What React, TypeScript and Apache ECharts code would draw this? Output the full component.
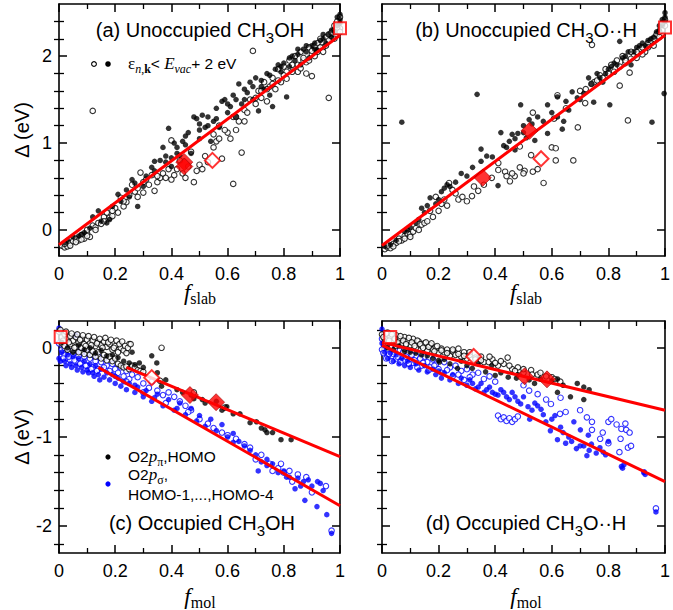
import React, { useEffect, useRef } from "react";
import * as echarts from "echarts";

// ---------- tick labels / tick positions ----------
const xTickLabels = ["0", "0.2", "0.4", "0.6", "0.8", "1"];
const yMajorTop = [0, 1, 2];
const yMinorTop = [-0.2, 0.2, 0.4, 0.6, 0.8, 1.2, 1.4, 1.6, 1.8, 2.2, 2.4];
const yMajorBottom = [-2, -1, 0];
const yMinorBottom = [-2.2, -1.8, -1.6, -1.4, -1.2, -0.8, -0.6, -0.4, -0.2, 0.2];

// ---------- panel (a) Unoccupied CH3OH ----------
const aFilled = [[0.02,-0.15],[0.03,-0.12],[0.05,-0.08],[0.07,-0.07],[0.08,-0.05],[0.09,-0.03],[0.11,0.02],[0.12,0.15],[0.14,0.22],[0.15,0.1],[0.17,0.08],[0.18,0.12],[0.19,0.27],[0.21,0.41],[0.22,0.33],[0.24,0.46],[0.25,0.38],[0.26,0.58],[0.27,0.54],[0.28,0.27],[0.3,0.5],[0.31,0.62],[0.33,0.72],[0.34,0.68],[0.34,0.79],[0.36,0.8],[0.37,0.95],[0.38,0.78],[0.39,1.17],[0.4,0.83],[0.4,0.73],[0.41,1.0],[0.42,0.95],[0.43,0.86],[0.44,1.02],[0.45,0.98],[0.46,1.12],[0.47,0.88],[0.48,1.3],[0.49,1.28],[0.5,1.05],[0.5,1.22],[0.51,1.32],[0.52,1.18],[0.53,1.3],[0.54,1.02],[0.55,1.25],[0.56,1.4],[0.57,1.18],[0.58,1.48],[0.59,1.5],[0.6,1.35],[0.61,1.42],[0.62,1.55],[0.63,1.3],[0.64,1.68],[0.65,1.45],[0.66,1.62],[0.67,1.58],[0.68,1.7],[0.69,1.5],[0.7,1.75],[0.71,1.37],[0.72,1.72],[0.73,1.62],[0.74,1.8],[0.75,1.55],[0.76,1.42],[0.77,1.85],[0.78,1.9],[0.79,1.82],[0.8,1.92],[0.81,1.53],[0.82,1.88],[0.83,2.0],[0.84,1.95],[0.85,2.02],[0.86,1.9],[0.87,2.08],[0.88,2.05],[0.89,1.98],[0.9,2.12],[0.91,2.15],[0.92,2.07],[0.93,2.18],[0.94,2.2],[0.95,2.15],[0.96,2.25],[0.97,2.3],[0.98,2.28],[0.99,2.35],[1.0,2.42],[1.0,2.48],[1.0,2.38],[0.45,1.08],[0.5,1.15],[0.53,1.2],[0.56,1.28],[0.6,1.45],[0.63,1.5],[0.66,1.5],[0.69,1.65],[0.72,1.65],[0.75,1.78],[0.79,1.88],[0.82,1.98],[0.85,2.08],[0.88,2.12],[0.91,2.08],[0.94,2.25],[0.97,2.22],[0.99,2.45],[0.42,0.88],[0.38,0.85]];
const aOpen = [[0.01,-0.18],[0.02,-0.2],[0.03,-0.19],[0.04,-0.15],[0.05,-0.13],[0.06,-0.1],[0.07,-0.12],[0.08,-0.06],[0.09,-0.1],[0.1,-0.04],[0.1,0.0],[0.11,-0.08],[0.12,0.05],[0.12,1.37],[0.13,0.03],[0.14,0.08],[0.15,0.07],[0.16,0.15],[0.17,0.2],[0.18,0.14],[0.19,0.16],[0.2,0.25],[0.21,0.2],[0.22,0.37],[0.23,0.27],[0.24,0.32],[0.25,0.4],[0.26,0.52],[0.27,0.44],[0.28,0.38],[0.28,0.48],[0.29,0.66],[0.3,0.43],[0.31,0.58],[0.32,0.52],[0.33,0.63],[0.34,0.45],[0.35,0.55],[0.36,0.6],[0.37,0.65],[0.38,0.6],[0.39,0.7],[0.4,0.58],[0.4,1.03],[0.41,0.63],[0.42,0.7],[0.43,0.8],[0.44,0.65],[0.45,0.6],[0.46,0.73],[0.47,0.9],[0.48,0.55],[0.49,0.68],[0.5,0.75],[0.51,0.7],[0.52,0.85],[0.53,0.78],[0.55,0.95],[0.56,1.02],[0.57,1.2],[0.58,0.82],[0.6,1.12],[0.61,1.05],[0.62,1.3],[0.62,0.53],[0.63,1.15],[0.64,1.25],[0.65,0.89],[0.66,1.38],[0.67,1.35],[0.68,1.5],[0.69,2.06],[0.7,1.45],[0.71,1.6],[0.72,1.52],[0.73,1.7],[0.74,1.48],[0.75,1.65],[0.76,1.75],[0.77,1.62],[0.78,1.85],[0.79,1.7],[0.8,1.88],[0.81,1.82],[0.82,1.95],[0.83,1.9],[0.84,2.0],[0.85,1.82],[0.86,2.05],[0.87,1.95],[0.88,1.8],[0.89,2.1],[0.9,2.02],[0.9,1.77],[0.91,2.12],[0.92,2.05],[0.93,2.2],[0.94,2.1],[0.95,2.22],[0.96,1.52],[0.96,2.25],[0.97,2.2],[0.98,2.3],[0.98,2.35],[0.99,2.28],[0.99,2.4],[1.0,2.32],[1.0,2.45],[0.7,1.52],[0.72,1.6],[0.74,1.62],[0.76,1.68],[0.78,1.72],[0.8,1.78],[0.81,1.74],[0.83,1.82],[0.85,1.9],[0.86,1.86],[0.87,1.98],[0.88,1.93],[0.89,1.95],[0.9,2.06],[0.91,2.0],[0.92,2.15],[0.93,2.1],[0.94,2.05],[0.95,2.12],[0.96,2.18],[0.97,2.27],[0.98,2.2],[0.99,2.33],[1.0,2.28],[0.55,1.1],[0.57,1.05],[0.59,1.15],[0.63,1.3],[0.66,1.25],[0.02,-0.16],[0.04,-0.18],[0.06,-0.14],[0.08,-0.11],[0.1,-0.07],[0.13,0.0],[0.16,0.1],[0.19,0.22],[0.23,0.33],[0.3,0.55],[0.35,0.62]];
const aFit = [[0, -0.17], [1, 2.24]];
const aDiamonds = [[0.446, 0.78], [0.446, 0.73]];
const aOpenDiamond = [[0.546, 0.8]];
const aSquare = [[1.0, 2.32]];

// ---------- panel (b) Unoccupied CH3O..H ----------
const bFilled = [[0.01,-0.19],[0.03,-0.17],[0.05,-0.12],[0.07,1.24],[0.08,-0.02],[0.09,0.0],[0.1,0.03],[0.12,0.08],[0.13,0.12],[0.14,0.25],[0.15,0.2],[0.16,0.28],[0.17,0.37],[0.19,0.3],[0.2,0.35],[0.21,0.44],[0.22,0.48],[0.23,0.52],[0.24,0.5],[0.26,0.55],[0.28,0.65],[0.3,0.62],[0.32,0.72],[0.336,1.56],[0.35,0.93],[0.35,0.79],[0.37,0.85],[0.39,0.84],[0.41,0.51],[0.42,1.12],[0.43,0.97],[0.45,1.02],[0.46,1.1],[0.47,0.92],[0.48,1.11],[0.49,1.44],[0.5,1.2],[0.51,1.06],[0.52,1.27],[0.53,1.22],[0.54,1.03],[0.55,1.3],[0.57,1.25],[0.585,1.11],[0.585,1.44],[0.6,1.35],[0.62,1.53],[0.637,1.16],[0.642,1.25],[0.65,1.48],[0.672,1.59],[0.69,1.52],[0.713,1.57],[0.73,1.75],[0.748,1.47],[0.76,1.8],[0.78,1.7],[0.8,1.85],[0.805,1.44],[0.82,1.92],[0.84,2.17],[0.85,1.98],[0.87,2.05],[0.88,1.9],[0.9,2.1],[0.92,2.15],[0.93,2.12],[0.95,2.2],[0.954,1.24],[0.97,2.28],[0.98,2.3],[0.99,2.35],[1.0,2.45],[1.0,2.4],[1.0,2.5],[0.997,1.57],[0.74,1.68],[0.77,1.75],[0.79,1.8],[0.81,1.88],[0.83,1.9],[0.86,2.0],[0.89,2.05],[0.91,2.12],[0.94,2.18],[0.96,2.22],[0.98,2.35],[0.99,2.42],[0.62,1.3],[0.66,1.38],[0.7,1.5],[0.44,0.95],[0.47,1.05],[0.5,1.12]];
const bOpen = [[0.01,-0.22],[0.02,-0.2],[0.03,-0.21],[0.04,-0.16],[0.05,-0.15],[0.06,-0.1],[0.07,-0.12],[0.08,-0.07],[0.09,-0.04],[0.1,-0.05],[0.11,-0.02],[0.12,0.02],[0.13,0.0],[0.14,0.06],[0.15,0.08],[0.16,0.1],[0.17,0.22],[0.18,0.15],[0.19,0.38],[0.2,0.22],[0.21,0.3],[0.22,0.35],[0.23,0.28],[0.237,0.54],[0.249,0.46],[0.26,0.42],[0.27,0.35],[0.284,0.38],[0.3,0.33],[0.318,0.39],[0.325,0.5],[0.34,0.45],[0.36,0.52],[0.388,0.6],[0.411,0.69],[0.411,0.77],[0.435,0.67],[0.452,0.56],[0.469,0.62],[0.487,0.72],[0.487,0.96],[0.504,0.68],[0.527,0.86],[0.533,0.67],[0.533,1.35],[0.571,0.54],[0.6,0.95],[0.608,1.28],[0.614,0.94],[0.614,0.8],[0.62,1.55],[0.65,1.4],[0.676,0.8],[0.692,1.18],[0.7,1.6],[0.718,1.46],[0.742,2.13],[0.75,1.7],[0.77,1.78],[0.79,1.85],[0.81,1.9],[0.83,1.95],[0.84,1.66],[0.85,2.0],[0.86,1.92],[0.869,1.26],[0.875,1.81],[0.88,2.05],[0.89,2.0],[0.9,1.98],[0.91,2.08],[0.92,2.1],[0.93,2.05],[0.94,2.15],[0.95,2.18],[0.96,2.12],[0.97,2.25],[0.98,2.22],[0.99,2.3],[1.0,2.35],[0.72,1.62],[0.74,1.68],[0.76,1.72],[0.78,1.75],[0.8,1.8],[0.82,1.82],[0.84,1.88],[0.86,1.95],[0.88,1.97],[0.9,2.05],[0.92,2.02],[0.94,2.1],[0.96,2.2],[0.98,2.28],[0.99,2.38],[1.0,2.42],[0.02,-0.18],[0.04,-0.19],[0.06,-0.13],[0.08,-0.1],[0.1,-0.08],[0.44,0.62],[0.46,0.65],[0.5,0.65],[0.55,0.7]];
const bFit = [[0, -0.18], [1, 2.24]];
const bDiamonds = [[0.356, 0.6], [0.521, 1.14]];
const bOpenDiamond = [[0.562, 0.82]];
const bSquare = [[1.0, 2.33]];

// ---------- panel (c) Occupied CH3OH ----------
const cBlackOpen = [[0.0,0.18],[0.01,0.12],[0.01,0.05],[0.02,0.15],[0.02,0.02],[0.03,0.1],[0.03,-0.02],[0.04,0.13],[0.04,0.04],[0.05,0.08],[0.05,-0.03],[0.06,0.12],[0.06,0.01],[0.07,0.06],[0.07,-0.05],[0.08,0.1],[0.08,0.0],[0.09,0.04],[0.09,-0.07],[0.1,0.09],[0.1,-0.02],[0.11,0.05],[0.11,-0.08],[0.12,0.08],[0.12,-0.04],[0.13,0.02],[0.13,-0.1],[0.14,0.06],[0.14,-0.05],[0.15,0.03],[0.15,-0.12],[0.16,0.07],[0.16,-0.08],[0.17,0.01],[0.17,-0.14],[0.18,0.04],[0.18,-0.1],[0.19,-0.02],[0.19,-0.15],[0.2,0.02],[0.2,-0.12],[0.21,-0.05],[0.21,-0.18],[0.22,0.0],[0.22,-0.2],[0.23,-0.03],[0.23,-0.22],[0.24,-0.06],[0.24,-0.21],[0.25,0.04],[0.25,-0.24],[0.26,-0.2],[0.27,-0.22],[0.28,-0.25],[0.29,-0.26],[0.3,-0.27],[0.36,-0.37],[0.365,0.0],[0.48,-0.5],[0.59,-0.67],[0.005,0.2],[0.015,0.08],[0.025,0.18],[0.035,0.06],[0.045,0.16],[0.055,0.0],[0.065,0.15],[0.075,0.09],[0.085,0.14],[0.095,0.02],[0.105,0.13],[0.115,0.03],[0.125,0.12],[0.135,0.05],[0.145,0.1],[0.155,0.0],[0.165,0.11],[0.175,0.06],[0.185,0.09],[0.195,0.0],[0.205,0.08],[0.215,0.04],[0.225,0.07],[0.235,0.02],[0.245,0.0],[0.255,0.04]];
const cBlackFilled = [[0.01,0.06],[0.03,0.0],[0.05,-0.05],[0.07,0.03],[0.09,-0.02],[0.11,0.0],[0.13,-0.06],[0.15,-0.03],[0.17,-0.09],[0.19,-0.08],[0.21,-0.11],[0.23,-0.15],[0.25,-0.17],[0.26,-0.05],[0.27,-0.19],[0.286,-0.17],[0.3,-0.22],[0.33,-0.09],[0.348,-0.17],[0.35,-0.28],[0.365,-0.43],[0.38,-0.36],[0.42,-0.47],[0.44,-0.5],[0.47,-0.53],[0.48,-0.57],[0.51,-0.58],[0.52,-0.62],[0.56,-0.6],[0.58,-0.7],[0.597,-0.66],[0.62,-0.74],[0.644,-0.74],[0.68,-0.84],[0.703,-0.83],[0.72,-0.9],[0.733,-0.92],[0.74,-0.95],[0.76,-0.95],[0.79,-1.03],[0.826,-1.03]];
const cBlueFilled = [[0.0,0.22],[0.0,-0.12],[0.01,-0.05],[0.02,-0.15],[0.03,-0.08],[0.04,-0.18],[0.05,-0.1],[0.06,0.14],[0.06,-0.2],[0.07,-0.12],[0.08,-0.22],[0.09,-0.15],[0.1,-0.25],[0.11,-0.18],[0.12,-0.28],[0.13,-0.2],[0.14,-0.3],[0.15,-0.24],[0.16,-0.33],[0.17,-0.28],[0.18,-0.36],[0.19,-0.3],[0.2,-0.4],[0.21,-0.34],[0.22,-0.43],[0.23,-0.38],[0.24,-0.47],[0.25,-0.4],[0.27,-0.5],[0.28,-0.44],[0.3,-0.55],[0.31,-0.48],[0.33,-0.6],[0.35,-0.52],[0.37,-0.65],[0.39,-0.58],[0.41,-0.7],[0.43,-0.62],[0.45,-0.75],[0.47,-0.68],[0.49,-0.82],[0.5,-0.76],[0.52,-0.88],[0.54,-0.8],[0.56,-0.93],[0.58,-0.86],[0.6,-1.0],[0.62,-0.96],[0.64,-1.05],[0.66,-1.1],[0.68,-1.15],[0.7,-1.2],[0.709,-1.38],[0.72,-1.28],[0.74,-1.32],[0.76,-1.3],[0.78,-1.4],[0.8,-1.38],[0.82,-1.45],[0.84,-1.58],[0.85,-1.46],[0.87,-1.5],[0.875,-1.71],[0.887,-1.48],[0.9,-1.55],[0.918,-1.78],[0.93,-1.52],[0.94,-1.6],[0.953,-1.87],[0.97,-2.08],[0.005,-0.15],[0.025,-0.2],[0.045,-0.22],[0.065,-0.25],[0.085,-0.27],[0.105,-0.28],[0.125,-0.32],[0.145,-0.36],[0.2,-0.32],[0.27,-0.42],[0.34,-0.56],[0.42,-0.68],[0.62,-1.06],[0.74,-1.25],[0.81,-1.45],[0.86,-1.55],[0.92,-1.5]];
const cBlueOpen = [[0.0,0.05],[0.01,-0.02],[0.01,-0.1],[0.02,0.0],[0.02,-0.08],[0.03,-0.12],[0.04,-0.04],[0.04,-0.14],[0.05,-0.07],[0.06,-0.02],[0.06,-0.16],[0.07,-0.09],[0.08,-0.05],[0.08,-0.17],[0.09,-0.1],[0.1,-0.06],[0.1,-0.2],[0.11,-0.12],[0.12,-0.08],[0.12,-0.22],[0.13,-0.15],[0.14,-0.1],[0.14,-0.24],[0.15,-0.16],[0.16,-0.12],[0.17,-0.2],[0.18,-0.26],[0.19,-0.18],[0.2,-0.24],[0.21,-0.28],[0.22,-0.22],[0.23,-0.32],[0.24,-0.26],[0.25,-0.35],[0.26,-0.3],[0.28,-0.33],[0.3,-0.4],[0.32,-0.45],[0.33,-0.38],[0.35,-0.48],[0.37,-0.53],[0.39,-0.5],[0.41,-0.55],[0.43,-0.6],[0.45,-0.65],[0.47,-0.7],[0.5,-0.8],[0.53,-0.85],[0.55,-0.9],[0.58,-0.95],[0.6,-0.98],[0.63,-1.02],[0.66,-1.08],[0.68,-1.12],[0.72,-1.2],[0.75,-1.3],[0.78,-1.35],[0.8,-1.4],[0.82,-1.38],[0.85,-1.42],[0.88,-1.45],[0.97,-2.05],[0.015,-0.12],[0.035,-0.1],[0.055,-0.14],[0.075,-0.18],[0.095,-0.2],[0.115,-0.24],[0.135,-0.26],[0.16,-0.22],[0.24,-0.38],[0.3,-0.5],[0.38,-0.62],[0.46,-0.72],[0.7,-1.25],[0.76,-1.38],[0.79,-1.3],[0.83,-1.5],[0.9,-1.62],[0.95,-1.55]];
const cFitUpper = [[0.24, -0.22], [1, -1.22]];
const cFitLower = [[0.14, -0.22], [1, -1.77]];
const cDiamonds = [[0.466, -0.53], [0.559, -0.61]];
const cOpenDiamond = [[0.33, -0.335]];
const cSquare = [[0.006, 0.12]];

// ---------- panel (d) Occupied CH3O..H ----------
const dBlackOpen = [[0.0,0.15],[0.01,0.1],[0.02,0.17],[0.02,0.05],[0.03,0.12],[0.04,0.08],[0.05,0.14],[0.05,0.02],[0.06,0.1],[0.07,0.05],[0.08,0.12],[0.08,-0.01],[0.09,0.08],[0.1,0.03],[0.11,0.1],[0.12,0.0],[0.13,0.07],[0.14,0.02],[0.15,0.05],[0.16,-0.03],[0.17,0.03],[0.18,-0.02],[0.19,0.01],[0.2,-0.06],[0.21,-0.01],[0.22,-0.05],[0.23,-0.02],[0.24,-0.09],[0.25,-0.04],[0.26,-0.08],[0.27,-0.01],[0.28,-0.1],[0.29,-0.05],[0.3,-0.12],[0.31,-0.08],[0.33,-0.11],[0.34,-0.15],[0.35,-0.1],[0.36,-0.16],[0.377,-0.16],[0.39,-0.13],[0.41,-0.2],[0.43,-0.18],[0.444,-0.11],[0.46,-0.24],[0.48,-0.22],[0.5,-0.28],[0.527,-0.25],[0.55,-0.3],[0.6,-0.33],[0.63,-0.38],[0.005,0.12],[0.015,0.16],[0.025,0.08],[0.035,0.15],[0.045,0.1],[0.055,0.06],[0.065,0.13],[0.075,0.08],[0.085,0.04],[0.095,0.11],[0.105,0.06],[0.115,0.02],[0.125,0.08],[0.135,0.04],[0.145,0.0],[0.155,0.06],[0.165,0.01],[0.175,0.05],[0.185,-0.04],[0.195,0.02],[0.21,-0.03],[0.23,-0.06],[0.25,-0.02],[0.27,-0.07],[0.29,-0.09],[0.31,-0.05],[0.33,-0.13],[0.35,-0.14],[0.38,-0.1],[0.4,-0.17],[0.42,-0.15],[0.45,-0.2],[0.47,-0.26],[0.5,-0.24],[0.53,-0.3],[0.56,-0.28],[0.58,-0.32],[0.61,-0.35]];
const dBlackFilled = [[0.02,0.0],[0.04,-0.02],[0.06,0.02],[0.08,-0.04],[0.1,-0.05],[0.12,-0.06],[0.14,-0.08],[0.16,-0.09],[0.18,-0.12],[0.2,-0.14],[0.203,-0.16],[0.22,-0.13],[0.24,-0.18],[0.267,-0.23],[0.28,-0.15],[0.3,-0.2],[0.319,-0.23],[0.34,-0.18],[0.366,-0.27],[0.388,-0.2],[0.4,-0.31],[0.42,-0.28],[0.446,-0.33],[0.475,-0.34],[0.48,-0.3],[0.52,-0.36],[0.539,-0.4],[0.56,-0.35],[0.6,-0.37],[0.62,-0.5],[0.62,-0.35],[0.64,-0.42],[0.666,-0.55],[0.69,-0.4],[0.713,-0.44],[0.713,-0.58],[0.732,-0.47]];
const dBlueFilled = [[0.0,0.21],[0.0,0.05],[0.01,-0.05],[0.02,-0.12],[0.03,-0.06],[0.04,-0.15],[0.05,-0.08],[0.06,-0.18],[0.07,-0.12],[0.08,-0.2],[0.09,-0.15],[0.1,-0.22],[0.12,-0.18],[0.13,-0.25],[0.15,-0.2],[0.16,-0.27],[0.18,-0.24],[0.19,-0.3],[0.2,-0.26],[0.21,-0.34],[0.22,-0.28],[0.24,-0.36],[0.25,-0.3],[0.27,-0.4],[0.28,-0.34],[0.3,-0.42],[0.31,-0.36],[0.33,-0.46],[0.35,-0.4],[0.36,-0.5],[0.38,-0.44],[0.4,-0.52],[0.42,-0.47],[0.44,-0.55],[0.46,-0.5],[0.48,-0.6],[0.5,-0.55],[0.516,-0.66],[0.522,-0.8],[0.54,-0.62],[0.562,-0.69],[0.579,-0.83],[0.595,-0.93],[0.611,-0.76],[0.62,-1.03],[0.631,-0.89],[0.649,-1.07],[0.66,-1.0],[0.678,-0.83],[0.687,-1.13],[0.701,-0.92],[0.713,-1.1],[0.724,-1.21],[0.729,-0.98],[0.732,-1.15],[0.757,-1.18],[0.782,-1.17],[0.8,-1.05],[0.846,-1.33],[0.85,-1.35],[0.927,-1.39],[0.93,-1.42],[0.968,-1.84],[0.32,-0.4],[0.34,-0.44],[0.37,-0.47],[0.39,-0.5],[0.41,-0.53],[0.43,-0.5],[0.45,-0.58],[0.47,-0.55],[0.49,-0.63],[0.53,-0.7],[0.55,-0.65],[0.57,-0.75],[0.6,-0.8],[0.64,-0.95],[0.67,-1.05],[0.7,-1.1],[0.74,-1.08],[0.77,-1.12],[0.79,-1.2],[0.855,-1.31],[0.925,-1.4]];
const dBlueOpen = [[0.0,0.1],[0.0,-0.02],[0.01,0.03],[0.02,-0.04],[0.02,-0.1],[0.03,0.0],[0.04,-0.07],[0.05,-0.12],[0.06,-0.03],[0.07,-0.09],[0.08,-0.14],[0.09,-0.06],[0.1,-0.12],[0.11,-0.17],[0.12,-0.09],[0.13,-0.14],[0.14,-0.2],[0.15,-0.1],[0.16,-0.16],[0.17,-0.22],[0.18,-0.13],[0.19,-0.19],[0.2,-0.24],[0.22,-0.16],[0.24,-0.22],[0.26,-0.2],[0.28,-0.26],[0.3,-0.24],[0.32,-0.3],[0.34,-0.28],[0.36,-0.35],[0.38,-0.32],[0.4,-0.38],[0.41,-0.76],[0.42,-0.8],[0.43,-0.78],[0.44,-0.82],[0.45,-0.79],[0.46,-0.83],[0.47,-0.8],[0.48,-0.77],[0.5,-0.42],[0.52,-0.48],[0.55,-0.52],[0.58,-0.58],[0.597,-0.63],[0.631,-0.56],[0.629,-0.74],[0.649,-0.72],[0.7,-0.7],[0.724,-0.78],[0.742,-0.83],[0.742,-0.92],[0.771,-1.02],[0.78,-0.95],[0.8,-0.83],[0.8,-1.07],[0.81,-0.8],[0.829,-0.86],[0.843,-1.02],[0.846,-0.91],[0.839,-1.17],[0.86,-0.85],[0.863,-0.92],[0.869,-1.12],[0.875,-0.95],[0.88,-1.1],[0.968,-1.8],[0.005,-0.06],[0.015,-0.12],[0.025,-0.07],[0.035,-0.15],[0.045,-0.02],[0.055,-0.1],[0.065,-0.16],[0.075,-0.05],[0.085,-0.1],[0.095,-0.18],[0.105,-0.08],[0.115,-0.14],[0.125,-0.22],[0.135,-0.12],[0.145,-0.17],[0.165,-0.25],[0.185,-0.2],[0.21,-0.28],[0.23,-0.25],[0.25,-0.32],[0.27,-0.3],[0.29,-0.36],[0.31,-0.33]];
const dFitUpper = [[0, 0.06], [1, -0.7]];
const dFitLower = [[0, 0.03], [1, -1.5]];
const dDiamonds = [[0.504, -0.32], [0.583, -0.354]];
const dOpenDiamond = [[0.324, -0.097]];
const dSquare = [[0.029, 0.12]];

// ---------- layout ----------
const SANS = "Liberation Sans";
const SERIF = "Liberation Serif";
const grids = [
  { left: 59, top: 4, width: 281, height: 252 },
  { left: 382, top: 4, width: 287, height: 252 },
  { left: 59, top: 321, width: 281, height: 232 },
  { left: 382, top: 321, width: 287, height: 232 },
];
const yRanges = [[-0.3, 2.6], [-0.3, 2.6], [-2.3, 0.3], [-2.3, 0.3]];

function buildAxes() {
  const xAxis: any[] = [];
  const yAxis: any[] = [];
  const line = { show: true, onZero: false, lineStyle: { color: "#000", width: 1.6 } };
  const tick = { show: true, inside: true, length: 8, lineStyle: { color: "#000", width: 1.5 } };
  grids.forEach((_, gi) => {
    const xc = {
      type: "value", gridIndex: gi, min: 0, max: 1, interval: 0.2,
      axisLine: line, axisTick: tick,
      minorTick: { show: true, splitNumber: 2, length: 5, lineStyle: { color: "#000", width: 1.3 } },
      splitLine: { show: false }, minorSplitLine: { show: false },
    };
    xAxis.push({
      ...xc, position: "bottom",
      axisLabel: {
        show: true, fontSize: 18, color: "#000", fontFamily: SANS, margin: 9,
        formatter: (v: number) => {
          const i = Math.round(v / 0.2);
          return Math.abs(v - i * 0.2) < 1e-6 ? xTickLabels[i] ?? "" : "";
        },
      },
    });
    xAxis.push({ ...xc, position: "top", axisLabel: { show: false } });
    const majors = gi < 2 ? yMajorTop : yMajorBottom;
    const minors = gi < 2 ? yMinorTop : yMinorBottom;
    const base = {
      type: "value", gridIndex: gi, min: yRanges[gi][0], max: yRanges[gi][1],
      splitLine: { show: false }, minorTick: { show: false },
    };
    ["left", "right"].forEach((pos) => {
      yAxis.push({
        ...base, position: pos, axisLine: line,
        axisTick: { ...tick, customValues: majors },
        axisLabel: {
          show: pos === "left" && (gi === 0 || gi === 2), customValues: majors,
          fontSize: 18, color: "#000", fontFamily: SANS, margin: 7,
          formatter: (v: number) => String(Math.round(v)),
        },
      });
      yAxis.push({
        ...base, position: pos, axisLine: { show: false },
        axisTick: { show: true, inside: true, length: 5, lineStyle: { color: "#000", width: 1.3 }, customValues: minors },
        axisLabel: { show: false },
      });
    });
  });
  return { xAxis, yAxis };
}

function scatter(gi: number, data: number[][], color: string, open: boolean) {
  return {
    type: "scatter", xAxisIndex: gi * 2, yAxisIndex: gi * 4, data,
    symbol: "circle", symbolSize: 5.5, silent: true, z: 2,
    itemStyle: open
      ? { color: "#fff", borderColor: color, borderWidth: 1.1 }
      : { color, borderWidth: 0 },
  };
}
function fitLine(gi: number, data: number[][]) {
  return {
    type: "line", xAxisIndex: gi * 2, yAxisIndex: gi * 4, data,
    showSymbol: false, silent: true, z: 3,
    lineStyle: { color: "#ff0000", width: 3 },
  };
}
function marker(gi: number, data: number[][], symbol: string, size: number, open: boolean) {
  return {
    type: "scatter", xAxisIndex: gi * 2, yAxisIndex: gi * 4, data, symbol, symbolSize: size,
    silent: true, z: 4, clip: false,
    itemStyle: open
      ? { color: "#fff", borderColor: "#ff0000", borderWidth: 2 }
      : { color: "#ff0000", borderColor: "#a00000", borderWidth: 0.8 },
  };
}

function buildSeries() {
  return [
    scatter(0, aOpen, "#000", true), scatter(0, aFilled, "#000", false), fitLine(0, aFit),
    marker(0, aDiamonds, "diamond", 17, false), marker(0, aOpenDiamond, "diamond", 15, true), marker(0, aSquare, "rect", 12, true),
    scatter(1, bOpen, "#000", true), scatter(1, bFilled, "#000", false), fitLine(1, bFit),
    marker(1, bDiamonds, "diamond", 17, false), marker(1, bOpenDiamond, "diamond", 15, true), marker(1, bSquare, "rect", 12, true),
    scatter(2, cBlueOpen, "#0000ff", true), scatter(2, cBlueFilled, "#0000ff", false),
    scatter(2, cBlackOpen, "#000", true), scatter(2, cBlackFilled, "#000", false),
    fitLine(2, cFitUpper), fitLine(2, cFitLower),
    marker(2, cDiamonds, "diamond", 17, false), marker(2, cOpenDiamond, "diamond", 15, true), marker(2, cSquare, "rect", 12, true),
    scatter(3, dBlueOpen, "#0000ff", true), scatter(3, dBlueFilled, "#0000ff", false),
    scatter(3, dBlackOpen, "#000", true), scatter(3, dBlackFilled, "#000", false),
    fitLine(3, dFitUpper), fitLine(3, dFitLower),
    marker(3, dDiamonds, "diamond", 17, false), marker(3, dOpenDiamond, "diamond", 15, true), marker(3, dSquare, "rect", 12, true),
  ];
}

function tok(size: number, family: string, extra: any = {}, lh = 28, va = "middle", h?: number) {
  const fs = extra.fontStyle || "normal";
  const fw = extra.fontWeight || "normal";
  const t: any = {
    fontSize: size, fontFamily: family, fontStyle: fs, fontWeight: fw,
    font: `${fs} ${fw} ${size}px "${family}"`,
    fill: "#000", lineHeight: lh, verticalAlign: va,
  };
  if (h != null) t.height = h;
  return t;
}
const titleRich = {
  m: tok(20, SANS, {}, 30),
  s: tok(15, SANS, {}, 12, "bottom"),
};
const fRich = {
  f: tok(23, SERIF, { fontStyle: "italic" }, 28),
  s: tok(16, SERIF, {}, 12, "bottom"),
};
const legRich = {
  m: tok(15.5, SANS, {}, 17),
  p: tok(17, SERIF, { fontStyle: "italic" }, 17),
  g: tok(17, SERIF, {}, 17),
  E: tok(17, SERIF, { fontStyle: "italic" }, 17),
  s: tok(12, SERIF, {}, 6, "bottom", 6),
  si: tok(12, SERIF, { fontStyle: "italic" }, 6, "bottom", 6),
  sb: tok(12, SERIF, { fontWeight: "bold" }, 6, "bottom", 6),
};

function txt(x: number, y: number, text: string, rich: any, size: number, align = "center") {
  return {
    type: "text", x, y, silent: true, z: 10,
    style: { text, rich, align, verticalAlign: "middle", fill: "#000", fontFamily: SANS, fontSize: size },
  };
}

function buildGraphic() {
  const D = "\u00B7\u00B7";
  return [
    txt(200, 30, "{m|(a) Unoccupied CH}{s|3}{m|OH}", titleRich, 20),
    txt(526, 30, `{m|(b) Unoccupied CH}{s|3}{m|O${D}H}`, titleRich, 20),
    txt(202, 523, "{m|(c) Occupied CH}{s|3}{m|OH}", titleRich, 20),
    txt(526, 523, `{m|(d) Occupied CH}{s|3}{m|O${D}H}`, titleRich, 20),
    txt(200, 292, "{f|f}{s|slab}", fRich, 23),
    txt(526, 292, "{f|f}{s|slab}", fRich, 23),
    txt(200, 596, "{f|f}{s|mol}", fRich, 23),
    txt(526, 596, "{f|f}{s|mol}", fRich, 23),
    { type: "text", x: 22, y: 130, rotation: Math.PI / 2, silent: true,
      style: { text: "\u0394 (eV)", fontSize: 20, fontFamily: SANS, fill: "#000", align: "center", verticalAlign: "middle" } },
    { type: "text", x: 22, y: 437, rotation: Math.PI / 2, silent: true,
      style: { text: "\u0394 (eV)", fontSize: 20, fontFamily: SANS, fill: "#000", align: "center", verticalAlign: "middle" } },
    // legend (a)
    { type: "circle", shape: { cx: 94, cy: 64, r: 2.4 }, style: { fill: "#fff", stroke: "#000", lineWidth: 1.1 }, silent: true },
    { type: "circle", shape: { cx: 108, cy: 64, r: 2.8 }, style: { fill: "#000" }, silent: true },
    txt(128, 63, "{g|\u03B5}{si|n}{s|,}{sb|k}{m|< }{E|E}{si|vac}{m|+ 2 eV}", legRich, 15.5, "left"),
    // legend (c)
    { type: "circle", shape: { cx: 108, cy: 457, r: 2.6 }, style: { fill: "#000" }, silent: true },
    { type: "circle", shape: { cx: 108, cy: 484, r: 2.6 }, style: { fill: "#0000ff" }, silent: true },
    txt(128, 456, "{m|O2}{p|p}{s|\u03C0}{m|,HOMO}", legRich, 15.5, "left"),
    txt(128, 474, "{m|O2}{p|p}{s|\u03C3}{m|,}", legRich, 15.5, "left"),
    txt(128, 494, "{m|HOMO-1,...,HOMO-4}", legRich, 15.5, "left"),
  ];
}

export default function App() {
  const ref = useRef<HTMLDivElement>(null);
  useEffect(() => {
    if (!ref.current) return;
    const chart = echarts.init(ref.current, null, { renderer: "svg" });
    const { xAxis, yAxis } = buildAxes();
    chart.setOption({
      animation: false,
      backgroundColor: "#fff",
      grid: grids.map((g) => ({ ...g, show: false, containLabel: false })),
      xAxis, yAxis,
      series: buildSeries(),
      graphic: buildGraphic(),
    });
    return () => chart.dispose();
  }, []);
  return (
    <div
      ref={ref}
      style={{ position: "absolute", left: 0, top: 0, width: 673, height: 610, background: "#fff" }}
    />
  );
}
